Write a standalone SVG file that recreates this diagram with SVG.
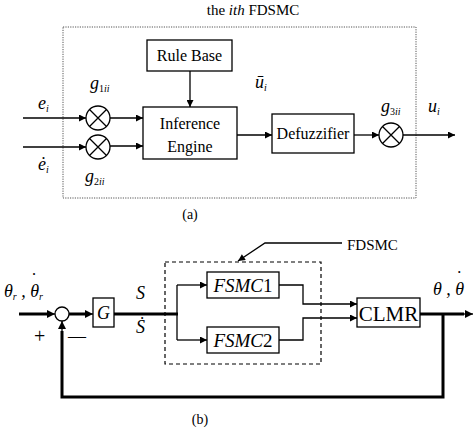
<svg xmlns="http://www.w3.org/2000/svg" width="474" height="428" viewBox="0 0 474 428" font-family="'Liberation Serif', 'Times New Roman', serif">
<defs>
<marker id="ah" viewBox="0 0 10 10" refX="10" refY="5" markerWidth="9" markerHeight="7" markerUnits="userSpaceOnUse" orient="auto"><path d="M0,0 L10,5 L0,10 z" fill="#000"/></marker>
<marker id="ahb" viewBox="0 0 10 10" refX="10" refY="5" markerWidth="10" markerHeight="8" markerUnits="userSpaceOnUse" orient="auto"><path d="M0,0 L10,5 L0,10 z" fill="#000"/></marker>
</defs>
<style>
text{fill:#000;font-family:"Liberation Serif","Times New Roman",serif}
.blk{fill:#fff;stroke:#000;stroke-width:1.3}
.ln{fill:none;stroke:#000;stroke-width:1.3}
.th{fill:none;stroke:#000;stroke-width:3}
.it{font-style:italic}
.sub{font-size:10px}
</style>
<rect width="474" height="428" fill="#fff"/>

<!-- (a) -->
<text x="253" y="15" font-size="15" text-anchor="middle">the <tspan class="it">ith</tspan> FDSMC</text>
<rect id="fdsmc-a" x="63" y="27" width="353" height="171" fill="none" stroke="#555" stroke-width="1" stroke-dasharray="1.2,1.2"/>

<g id="rulebase"><rect class="blk" x="147" y="40" width="85" height="31"/><text x="189.5" y="61" font-size="16" text-anchor="middle">Rule Base</text></g>
<g id="inference"><rect class="blk" x="143" y="107" width="94" height="52"/><text x="190" y="129" font-size="16" text-anchor="middle">Inference</text><text x="190" y="152" font-size="16" text-anchor="middle">Engine</text></g>
<g id="defuzz"><rect class="blk" x="272" y="114" width="82" height="39"/><text x="313" y="139" font-size="16" text-anchor="middle">Defuzzifier</text></g>
<g id="mult1"><circle class="ln" cx="98" cy="118" r="12"/><path class="ln" d="M89.5,109.5 L106.5,126.5 M106.5,109.5 L89.5,126.5"/></g>
<g id="mult2"><circle class="ln" cx="98" cy="147" r="12"/><path class="ln" d="M89.5,138.5 L106.5,155.5 M106.5,138.5 L89.5,155.5"/></g>
<g id="mult3"><circle class="ln" cx="391" cy="135" r="12"/><path class="ln" d="M382.5,126.5 L399.5,143.5 M399.5,126.5 L382.5,143.5"/></g>

<g id="conn-a">
<path class="ln" d="M23,118 L86,118" marker-end="url(#ah)"/>
<path class="ln" d="M23,147 L86,147" marker-end="url(#ah)"/>
<path class="ln" d="M110,118 L143,118" marker-end="url(#ah)"/>
<path class="ln" d="M110,146 L143,146" marker-end="url(#ah)"/>
<path class="ln" d="M190,71 L190,107" marker-end="url(#ah)"/>
<path class="ln" d="M237,135 L272,135" marker-end="url(#ah)"/>
<path class="ln" d="M354,135 L379,135" marker-end="url(#ah)"/>
<path class="ln" d="M403,135 L455,135" marker-end="url(#ah)"/>
</g>

<text x="38" y="109" font-size="18" class="it">e<tspan class="sub" dy="3">i</tspan></text>
<text x="38" y="170" font-size="18" class="it">ė<tspan class="sub" dy="3">i</tspan></text>
<text x="90" y="89" font-size="18" class="it">g<tspan class="sub" dy="3"><tspan font-style="normal">1</tspan>ii</tspan></text>
<text x="85" y="182" font-size="18" class="it">g<tspan class="sub" dy="3"><tspan font-style="normal">2</tspan>ii</tspan></text>
<text x="255" y="88" font-size="18" class="it">ū<tspan class="sub" dy="3">i</tspan></text>
<text x="381" y="112" font-size="18" class="it">g<tspan class="sub" dy="3"><tspan font-style="normal">3</tspan>ii</tspan></text>
<text x="428" y="112" font-size="18" class="it">u<tspan class="sub" dy="3">i</tspan></text>
<text x="190" y="219" font-size="14" text-anchor="middle">(a)</text>

<!-- (b) -->
<rect id="fdsmc-b" x="165" y="262" width="156" height="102" fill="none" stroke="#000" stroke-width="1.2" stroke-dasharray="4,3"/>
<text x="347" y="250" font-size="15">FDSMC</text>
<g id="sum"><circle class="ln" cx="62" cy="314" r="7"/></g>
<g id="G"><rect class="blk" x="93" y="298" width="21" height="29"/><text x="103.5" y="319" font-size="18" class="it" text-anchor="middle">G</text></g>
<g id="fsmc1"><rect class="blk" x="207" y="272" width="72" height="26"/><text x="243" y="292" font-size="19" text-anchor="middle"><tspan class="it">FSMC</tspan>1</text></g>
<g id="fsmc2"><rect class="blk" x="207" y="327" width="72" height="26"/><text x="243" y="347" font-size="19" text-anchor="middle"><tspan class="it">FSMC</tspan>2</text></g>
<g id="clmr"><rect class="blk" x="357" y="298" width="63" height="29"/><text x="388.5" y="321" font-size="21" text-anchor="middle">CLMR</text></g>

<g id="conn-b">
<path class="ln" d="M342,243 L265,243 L238,261" marker-end="url(#ah)"/>
<path class="th" d="M19,314 L49,314"/><path class="ln" d="M45,314 L55,314" marker-end="url(#ahb)"/>
<path class="th" d="M69,314 L85,314"/><path class="ln" d="M83,314 L93,314" marker-end="url(#ahb)"/>
<path class="th" d="M114,314 L178,314"/>
<path class="ln" d="M177,285 L177,340"/>
<path class="ln" d="M177,285 L207,285" marker-end="url(#ah)"/>
<path class="ln" d="M177,340 L207,340" marker-end="url(#ah)"/>
<path class="ln" d="M279,285 L303,285 L303,304 L357,304" marker-end="url(#ah)"/>
<path class="ln" d="M279,340 L303,340 L303,318 L357,318" marker-end="url(#ah)"/>
<path class="th" d="M420,314 L464,314"/><path class="ln" d="M462,314 L473,314" marker-end="url(#ahb)"/>
<path class="th" d="M443,314 L443,397 L62,397 L62,331"/><path class="ln" d="M62,333 L62,321" marker-end="url(#ahb)"/>
</g>

<text x="4" y="297" font-size="18" class="it">θ<tspan class="sub" dy="3">r</tspan><tspan dy="-3"> ,</tspan><tspan> θ</tspan><tspan font-style="normal" dx="-8" dy="-11">˙</tspan><tspan class="sub" dx="2" dy="14">r</tspan></text>
<text x="136" y="299" font-size="18" class="it">S</text>
<text x="136" y="333" font-size="18" class="it">Ṡ</text>
<text x="34" y="343" font-size="20">+</text>
<text x="68" y="342" font-size="18">—</text>
<text x="433" y="295" font-size="18" class="it">θ , θ<tspan font-style="normal" dx="-8" dy="-11">˙</tspan></text>
<text x="200" y="424" font-size="14" text-anchor="middle">(b)</text>
</svg>
